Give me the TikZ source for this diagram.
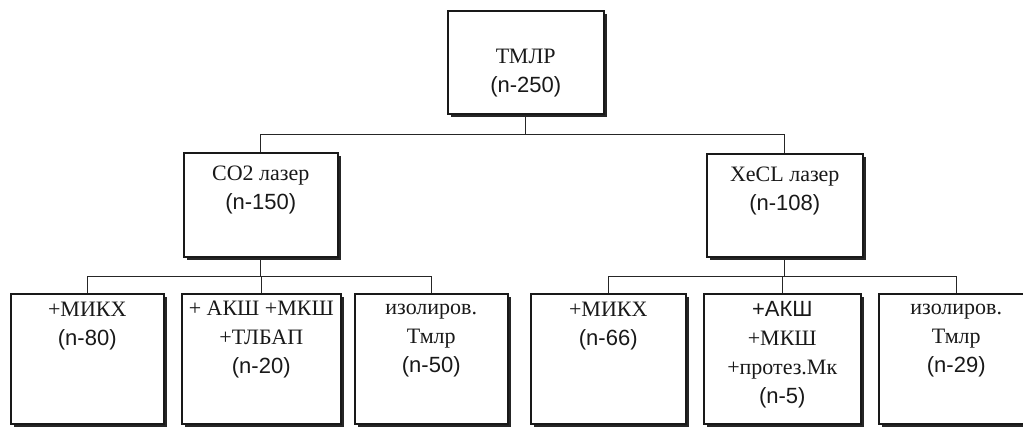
\documentclass[tikz,border=0pt]{standalone}
\usepackage{fontspec}
\setmainfont{Liberation Serif}
\newfontfamily\numfont{Liberation Sans}
\usetikzlibrary{positioning, shadows}

\begin{document}
\begin{tikzpicture}[
    x=1pt, y=-1pt,
    cell/.style={draw=black!90, line width=1.5pt, fill=white, anchor=north west, inner sep=0pt,
        drop shadow={shadow xshift=3pt, shadow yshift=-3pt, opacity=1, fill=black!85}},
    lbl/.style={align=center, inner sep=0pt, text=black!90, font=\fontsize{22}{29}\selectfont},
    link/.style={draw=black!85, line width=1pt}
]

% Page frame
\useasboundingbox (0,0) rectangle (1023,426);

% Top level
\node[cell, minimum width=156pt, minimum height=103pt] (tmlr) at (447,10) {};
\node[lbl, below=39pt of tmlr.north] (tmlr-t) {ТМЛР\\{\numfont (n-250)}};

% Laser types
\node[cell, minimum width=154pt, minimum height=104pt] (co2) at (183,152) {};
\node[lbl, below=14pt of co2.north] (co2-t) {CO2 лазер\\{\numfont (n-150)}};
\node[cell, minimum width=156pt, minimum height=103pt] (xecl) at (706,153) {};
\node[lbl, below=14pt of xecl.north] (xecl-t) {XeCL лазер\\{\numfont (n-108)}};

% Groups under CO2 laser
\node[cell, minimum width=153pt, minimum height=130pt] (mikhA) at (10,293) {};
\node[lbl, below=9pt of mikhA.north] (mikhA-t) {+МИКХ\\{\numfont (n-80)}};
\node[cell, minimum width=159pt, minimum height=130pt] (akshA) at (181,293) {};
\node[lbl, below=8pt of akshA.north] (akshA-t) {+ АКШ +МКШ\\+ТЛБАП\\{\numfont (n-20)}};
\node[cell, minimum width=153pt, minimum height=130pt] (isolA) at (354,293) {};
\node[lbl, below=11pt of isolA.north] (isolA-t) {изолиров.\\Тмлр\\{\numfont (n-50)}};

% Groups under XeCL laser
\node[cell, minimum width=155pt, minimum height=130pt] (mikhB) at (530,293) {};
\node[lbl, below=9pt of mikhB.north] (mikhB-t) {+МИКХ\\{\numfont (n-66)}};
\node[cell, minimum width=157pt, minimum height=130pt] (akshB) at (703,293) {};
\node[lbl, below=8pt of akshB.north] (akshB-t) {{\numfont +АКШ}\\+МКШ\\+протез.Мк\\{\numfont (n-5)}};
\node[cell, minimum width=155pt, minimum height=130pt] (isolB) at (878,293) {};
\node[lbl, below=11pt of isolB.north] (isolB-t) {изолиров.\\Тмлр\\{\numfont (n-29)}};

% Tree connectors
\draw[link] (tmlr.south) -- ++(0,20) coordinate (hubtop) -| (co2.north);
\draw[link] (hubtop) -| (xecl.north);

\draw[link] (co2.south) -- ++(0,19) coordinate (hubA) -| (mikhA.north);
\draw[link] (hubA) -| (akshA.north);
\draw[link] (hubA) -| (isolA.north);

\draw[link] (xecl.south) -- ++(0,19) coordinate (hubB) -| (mikhB.north);
\draw[link] (hubB) -| (akshB.north);
\draw[link] (hubB) -| (isolB.north);

\end{tikzpicture}
\end{document}
